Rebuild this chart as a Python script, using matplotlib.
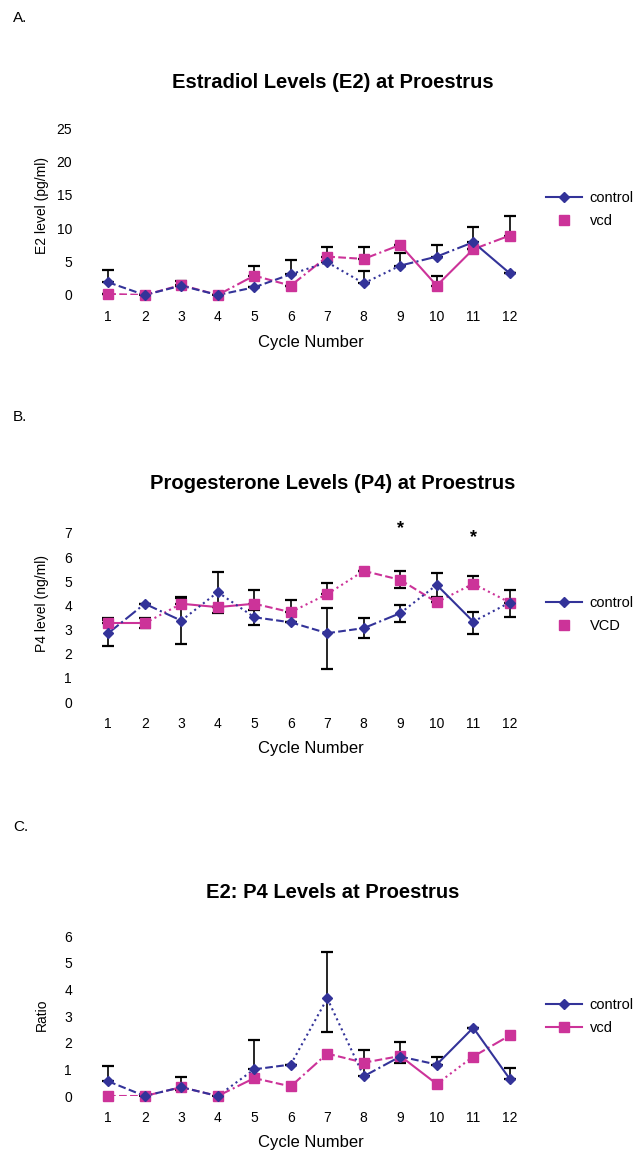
import numpy as np
import matplotlib
matplotlib.use("Agg")
import matplotlib.pyplot as plt
from matplotlib.lines import Line2D

plt.rcParams['font.family'] = ['Liberation Sans', 'DejaVu Sans']

# 数据
cycles = list(range(1, 13))
cycle_labels = [str(c) for c in cycles]

# A. Estradiol (E2), pg/ml
e2_control = [1.9, 0.0, 1.4, 0.0, 1.15, 3.1, 4.9, 1.75, 4.4, 5.75, 7.9, 3.25]
e2_vcd = [0.15, 0.0, 1.5, 0.0, 2.9, 1.4, 5.75, 5.4, 7.5, 1.4, 6.85, 8.9]
e2_control_err_up = [1.8, 0, 0, 0, 0, 2.1, 0, 1.8, 1.9, 1.75, 2.35, 0]
e2_vcd_err_up = [0, 0, 0.6, 0, 1.5, 0, 1.45, 1.75, 0, 1.5, 0, 2.95]

# B. Progesterone (P4), ng/ml
p4_control = [2.85, 4.07, 3.37, 4.55, 3.51, 3.3, 2.85, 3.06, 3.68, 4.85, 3.33, 4.12]
p4_vcd = [3.26, 3.26, 4.07, 3.93, 4.07, 3.72, 4.47, 5.43, 5.06, 4.13, 4.9, 4.12]
p4_control_err_up = [0.55, 0, 0.98, 0.85, 0.3, 0, 1.05, 0.4, 0.35, 0.5, 0.4, 0.5]
p4_control_err_lo = [0.55, 0, 0.98, 0.85, 0.3, 0, 1.5, 0.4, 0.35, 0.5, 0.5, 0.6]
p4_vcd_err_up = [0.2, 0.2, 0.25, 0, 0.55, 0.5, 0.45, 0, 0.35, 0, 0.3, 0]
p4_vcd_err_lo = [0, 0.2, 0, 0, 0, 0, 0, 0, 0.35, 0, 0.15, 0]
p4_star_cycles = [9, 11]
p4_star_y = [7.2, 6.8]

# C. E2:P4 ratio
ratio_control = [0.55, 0.0, 0.33, 0.0, 1.0, 1.18, 3.66, 0.74, 1.48, 1.18, 2.56, 0.64]
ratio_vcd = [0.0, 0.0, 0.33, 0.0, 0.67, 0.36, 1.59, 1.25, 1.5, 0.45, 1.48, 2.27]
ratio_control_err_up = [0.57, 0, 0.4, 0, 1.1, 0, 1.75, 0.98, 0.55, 0.3, 0, 0.4]
ratio_control_err_lo = [0, 0, 0.1, 0, 0, 0, 1.25, 0, 0.25, 0, 0, 0]

navy = '#333399'
magenta = '#cc3399'
W, H = 641, 1153

fig = plt.figure(figsize=(W / 100, H / 100), dpi=100)


def fx(px):
    return px / W


def fy(py):
    return 1 - py / H


panels = [
    dict(letter="A.", letter_y=18, title="Estradiol Levels (E2) at Proestrus", title_y=82,
         top=128, bottom=295, ylim=(0, 25), yticks=[0, 5, 10, 15, 20, 25],
         ylabel="E2 level (pg/ml)", ylabel_y=206, xlabel_y=343,
         control=e2_control, vcd=e2_vcd,
         c_err=([0] * 12, e2_control_err_up), v_err=([0] * 12, e2_vcd_err_up),
         c_ls=['--', '--', '--', '--', '--', ':', ':', ':', '-.', '-.', '-'],
         v_ls=['--', '--', '--', '-.', '--', '-.', '--', '-.', '-', '-', '-.'],
         labels=["control", "vcd"], leg_y=200, vcd_leg_line=False),
    dict(letter="B.", letter_y=417, title="Progesterone Levels (P4) at Proestrus", title_y=484,
         top=533, bottom=702, ylim=(0, 7), yticks=[0, 1, 2, 3, 4, 5, 6, 7],
         ylabel="P4 level (ng/ml)", ylabel_y=603, xlabel_y=748,
         control=p4_control, vcd=p4_vcd,
         c_err=(p4_control_err_lo, p4_control_err_up), v_err=(p4_vcd_err_lo, p4_vcd_err_up),
         c_ls=['-.', '-.', ':', ':', '--', '--', '--', '-.', ':', '-', ':'],
         v_ls=['-', ':', '-', '-', '--', ':', ':', '--', '--', ':', ':'],
         labels=["control", "VCD"], leg_y=605, vcd_leg_line=False),
    dict(letter="C.", letter_y=827, title="E2: P4 Levels at Proestrus", title_y=892,
         top=936, bottom=1096, ylim=(0, 6), yticks=[0, 1, 2, 3, 4, 5, 6],
         ylabel="Ratio", ylabel_y=1015, xlabel_y=1143,
         control=ratio_control, vcd=ratio_vcd,
         c_err=(ratio_control_err_lo, ratio_control_err_up), v_err=None,
         c_ls=['--', '--', '--', ':', '--', ':', ':', '-.', '--', '-', '-'],
         v_ls=['--', '-.', '--', '-.', '--', '-.', '--', '--', '-', ':', '-.'],
         labels=["control", "vcd"], leg_y=1007, vcd_leg_line=True),
]

left_px, right_px = 90, 528

for p in panels:
    ax = fig.add_axes([fx(left_px), fy(p["bottom"]), fx(right_px - left_px),
                       (p["bottom"] - p["top"]) / H])
    ax.set_xlim(0.5, 12.5)
    ax.set_ylim(*p["ylim"])

    # 误差线
    ax.errorbar(cycles, p["control"], yerr=p["c_err"], fmt='none', ecolor='black',
                elinewidth=1.2, capsize=4, capthick=1.6, zorder=2)
    if p["v_err"] is not None:
        ax.errorbar(cycles, p["vcd"], yerr=p["v_err"], fmt='none', ecolor='black',
                    elinewidth=1.2, capsize=4, capthick=1.6, zorder=2)

    # 折线（每段线型不同）
    for i in range(len(cycles) - 1):
        ax.plot(cycles[i:i + 2], p["vcd"][i:i + 2], ls=p["v_ls"][i], color=magenta,
                lw=1.5, zorder=3)
        ax.plot(cycles[i:i + 2], p["control"][i:i + 2], ls=p["c_ls"][i], color=navy,
                lw=1.5, zorder=4)
    ax.plot(cycles, p["vcd"], ls='none', marker='s', ms=6.5, color=magenta, zorder=5,
            clip_on=False)
    ax.plot(cycles, p["control"], ls='none', marker='D', ms=5, color=navy, zorder=6,
            clip_on=False)

    if p["letter"] == "B.":
        for c, yv in zip(p4_star_cycles, p4_star_y):
            ax.text(c, yv, "*", ha='center', va='center', fontsize=13, fontweight='bold')

    for s in ax.spines.values():
        s.set_visible(False)
    ax.set_yticks(p["yticks"])
    ax.set_xticks(cycles)
    ax.set_xticklabels(cycle_labels)
    ax.tick_params(axis='both', length=0, labelsize=10)
    ax.tick_params(axis='y', pad=13)
    ax.tick_params(axis='x', pad=11)

    fig.text(fx(13), fy(p["letter_y"]), p["letter"], fontsize=11, va='center', ha='left')
    fig.text(fx(333), fy(p["title_y"]), p["title"], fontsize=14.5, fontweight='bold',
             ha='center', va='center')
    fig.text(fx(42), fy(p["ylabel_y"]), p["ylabel"], fontsize=10, rotation=90,
             ha='center', va='center')
    fig.text(fx(311), fy(p["xlabel_y"]), "Cycle Number", fontsize=12,
             ha='center', va='center')

    handles = [
        Line2D([], [], color=navy, lw=1.5, marker='D', ms=5),
        Line2D([], [], color=magenta, lw=1.5 if p["vcd_leg_line"] else 0, marker='s', ms=6.5),
    ]
    ax.legend(handles, p["labels"], loc='upper left',
              bbox_to_anchor=(fx(546), fy(p["leg_y"] - 9)), bbox_transform=fig.transFigure,
              frameon=False, fontsize=10.5, handlelength=2.5, handletextpad=0.5,
              labelspacing=0.6, borderpad=0, borderaxespad=0)

fig.savefig("out.png", dpi=100)
